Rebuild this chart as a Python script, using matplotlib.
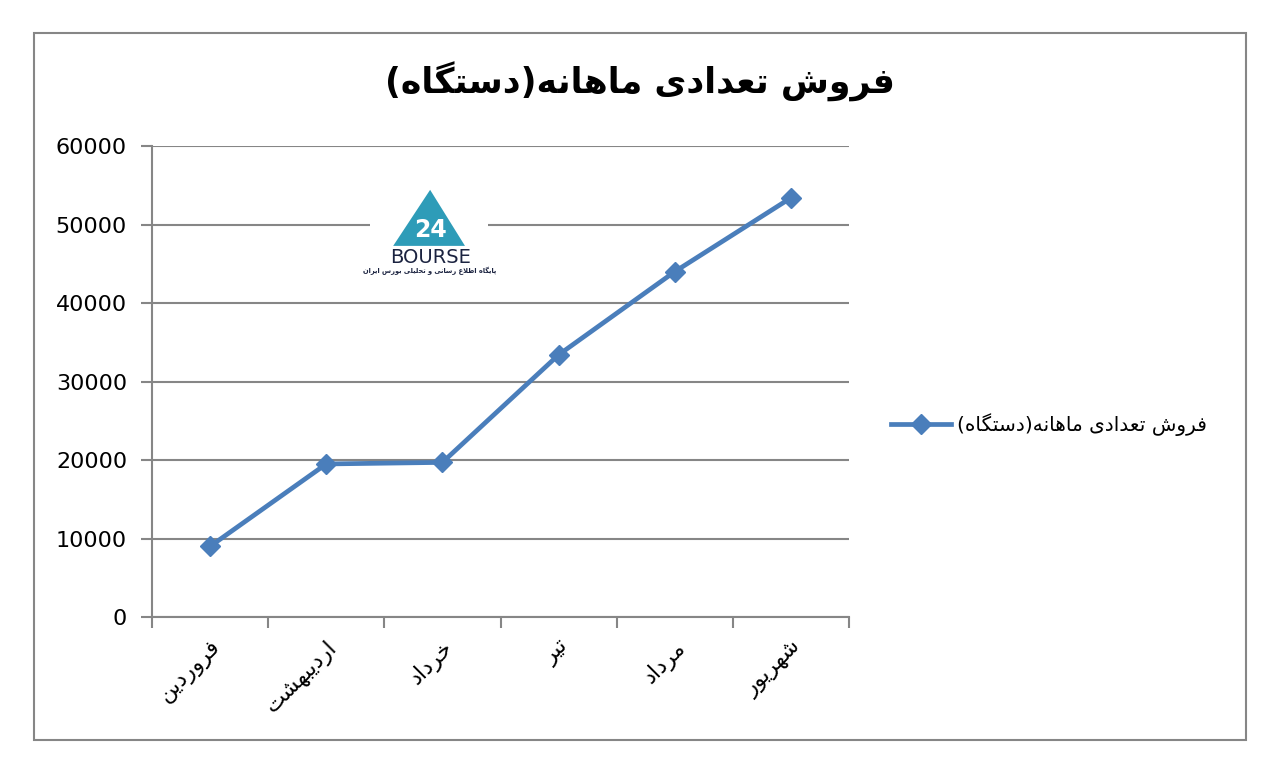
import matplotlib
matplotlib.use("Agg")
import matplotlib.pyplot as plt
from matplotlib.patches import Rectangle, Polygon

# data
months = ["فروردین", "اردیبهشت", "خرداد", "تیر", "مرداد", "شهریور"]
sales = [9000, 19500, 19700, 33400, 44000, 53400]
y_ticks = [0, 10000, 20000, 30000, 40000, 50000, 60000]
title = "فروش تعدادی ماهانه(دستگاه)"
series_name = "فروش تعدادی ماهانه(دستگاه)"
logo_caption = "پایگاه اطلاع رسانی و تحلیلی بورس ایران"

LINE_BLUE = "#4a7ebb"
GRID_GRAY = "#868686"

# matplotlib has no arabic shaping, so pick presentation forms by hand
# (isolated, final, initial, medial)
FORMS = {
    "ا": ("\uFE8D", "\uFE8E", None, None),
    "ب": ("\uFE8F", "\uFE90", "\uFE91", "\uFE92"),
    "پ": ("\uFB56", "\uFB57", "\uFB58", "\uFB59"),
    "ت": ("\uFE95", "\uFE96", "\uFE97", "\uFE98"),
    "ح": ("\uFEA1", "\uFEA2", "\uFEA3", "\uFEA4"),
    "خ": ("\uFEA5", "\uFEA6", "\uFEA7", "\uFEA8"),
    "د": ("\uFEA9", "\uFEAA", None, None),
    "ر": ("\uFEAD", "\uFEAE", None, None),
    "س": ("\uFEB1", "\uFEB2", "\uFEB3", "\uFEB4"),
    "ش": ("\uFEB5", "\uFEB6", "\uFEB7", "\uFEB8"),
    "ط": ("\uFEC1", "\uFEC2", "\uFEC3", "\uFEC4"),
    "ع": ("\uFEC9", "\uFECA", "\uFECB", "\uFECC"),
    "ف": ("\uFED1", "\uFED2", "\uFED3", "\uFED4"),
    "گ": ("\uFB92", "\uFB93", "\uFB94", "\uFB95"),
    "ل": ("\uFEDD", "\uFEDE", "\uFEDF", "\uFEE0"),
    "م": ("\uFEE1", "\uFEE2", "\uFEE3", "\uFEE4"),
    "ن": ("\uFEE5", "\uFEE6", "\uFEE7", "\uFEE8"),
    "ه": ("\uFEE9", "\uFEEA", "\uFEEB", "\uFEEC"),
    "و": ("\uFEED", "\uFEEE", None, None),
    "ی": ("\uFBFC", "\uFBFD", "\uFBFE", "\uFBFF"),
    "لا": ("\uFEFB", "\uFEFC", None, None),
}


def rtl(text):
    tokens = []
    i = 0
    while i < len(text):
        if text[i] == "ل" and i + 1 < len(text) and text[i + 1] == "ا":
            tokens.append("لا")
            i += 2
        else:
            tokens.append(text[i])
            i += 1

    out = []
    for j, tok in enumerate(tokens):
        forms = FORMS.get(tok)
        if forms is None:
            out.append(tok)
            continue
        prev = tokens[j - 1] if j > 0 else None
        nxt = tokens[j + 1] if j + 1 < len(tokens) else None
        join_prev = prev in FORMS and FORMS[prev][2] is not None
        join_next = forms[2] is not None and nxt in FORMS
        if join_prev and join_next:
            out.append(forms[3])
        elif join_prev:
            out.append(forms[1])
        elif join_next:
            out.append(forms[2])
        else:
            out.append(forms[0])

    visual = "".join(reversed(out))
    return visual.translate(str.maketrans("()", ")("))


plt.rcParams["font.family"] = ["DejaVu Sans"]

fig = plt.figure(figsize=(12.71, 7.61), dpi=100)
ax = fig.add_axes([0.1196, 0.1892, 0.5484, 0.6189])

x = list(range(len(months)))
ax.plot(
    x,
    sales,
    color=LINE_BLUE,
    linewidth=3.4,
    marker="D",
    markersize=10.5,
    label=rtl(series_name),
    zorder=3
)

ax.set_xlim(-0.5, len(months) - 0.5)
ax.set_ylim(0, 60000)
ax.set_yticks(y_ticks)
ax.set_yticklabels([str(v) for v in y_ticks], fontsize=16)
ax.yaxis.grid(True, color=GRID_GRAY, linewidth=1.5)
ax.set_axisbelow(True)

ax.set_xticks(x)
ax.set_xticklabels(
    [rtl(m) for m in months],
    rotation=45,
    ha="right",
    rotation_mode="anchor",
    fontsize=16
)
ax.set_xticks([v - 0.5 for v in range(len(months) + 1)], minor=True)
ax.tick_params(axis="x", which="major", length=0, pad=14)
ax.tick_params(axis="x", which="minor", length=8, width=1.5, color=GRID_GRAY)
ax.tick_params(axis="y", length=8, width=1.5, color=GRID_GRAY, pad=10)

for side in ["top", "right"]:
    ax.spines[side].set_visible(False)
for side in ["left", "bottom"]:
    ax.spines[side].set_color(GRID_GRAY)
    ax.spines[side].set_linewidth(1.5)

# logo box
ax.add_patch(Rectangle((0.313, 0.705), 0.169, 0.24, transform=ax.transAxes,
                       facecolor="white", edgecolor="none", zorder=2))
ax.add_patch(Polygon([(0.346, 0.788), (0.399, 0.907), (0.449, 0.788)],
                     closed=True, transform=ax.transAxes,
                     facecolor="#2e9cb8", edgecolor="none", zorder=2))
ax.text(0.399, 0.822, "24", transform=ax.transAxes, ha="center",
        va="center", fontsize=17, fontweight="bold", color="white",
        zorder=2)
ax.text(0.399, 0.764, "BOURSE", transform=ax.transAxes, ha="center",
        va="center", fontsize=14, color="#1b2340", zorder=2)
ax.text(0.399, 0.735, rtl(logo_caption), transform=ax.transAxes,
        ha="center", va="center", fontsize=4.8, fontweight="bold",
        color="#1b2340", zorder=2)

fig.text(0.5035, 0.892, rtl(title), ha="center", va="center",
         fontsize=25, fontweight="bold")

fig.legend(
    loc="center left",
    bbox_to_anchor=(0.693, 0.4415),
    frameon=False,
    fontsize=14.5,
    handlelength=3.0,
    handletextpad=0.3,
    borderpad=0
)

fig.patches.append(Rectangle((0.0268, 0.0276), 0.9536, 0.929,
                             transform=fig.transFigure, fill=False,
                             edgecolor=GRID_GRAY, linewidth=1.5))

fig.savefig("out.png", dpi=100, facecolor="white")
